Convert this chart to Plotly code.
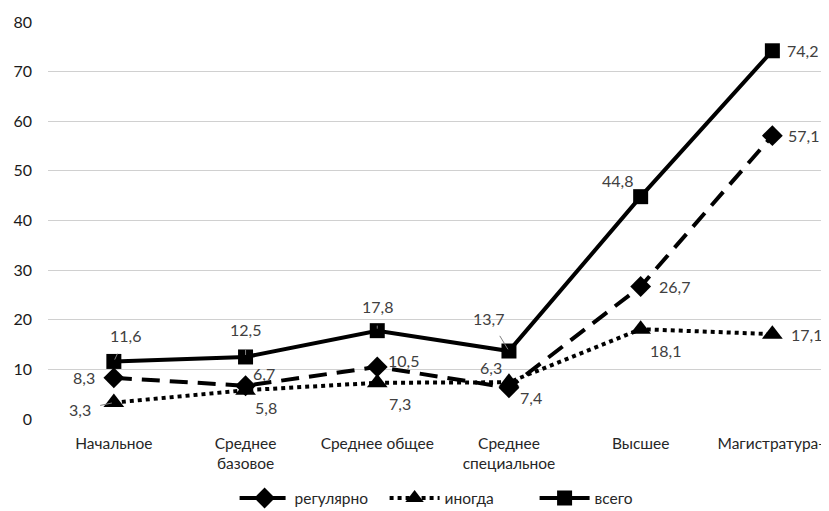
import plotly.graph_objects as go

categories = ["Начальное", "Среднее<br>базовое", "Среднее общее", "Среднее<br>специальное", "Высшее", "Магистратура+"]
regular = [8.3, 6.7, 10.5, 6.3, 26.7, 57.1]
sometimes = [3.3, 5.8, 7.3, 7.4, 18.1, 17.1]
total = [11.6, 12.5, 17.8, 13.7, 44.8, 74.2]
y_ticks = [0, 10, 20, 30, 40, 50, 60, 70, 80]

# label offsets in pixels (dx, dy), and whether a leader line is drawn
reg_off = [(-30, 0, False), (18, -12, False), (26, -6, False), (-18, -20, False), (34, 0, False), (31, 0, False)]
som_off = [(-34, 7, True), (20, 17, False), (23, 21, False), (22, 15, False), (25, 21, False), (34, 0, False)]
tot_off = [(12, -26, True), (0, -27, True), (0, -24, True), (-20, -33, True), (-23, -16, False), (30, 0, False)]

FONT = "Lato, Open Sans, sans-serif"
xs = list(range(len(categories)))
fig = go.Figure()
fig.add_trace(go.Scatter(x=xs, y=regular, name="регулярно", mode="lines+markers",
                         line=dict(color="black", width=4, dash="18px,10px"),
                         marker=dict(symbol="diamond", size=16, color="black")))
fig.add_trace(go.Scatter(x=xs, y=sometimes, name="иногда", mode="lines+markers",
                         line=dict(color="black", width=4, dash="4px,4px"),
                         marker=dict(symbol="triangle-up", size=18, color="black")))
fig.add_trace(go.Scatter(x=xs, y=total, name="всего", mode="lines+markers",
                         line=dict(color="black", width=4),
                         marker=dict(symbol="square", size=15, color="black")))

annotations = []
for series, offs in ((regular, reg_off), (sometimes, som_off), (total, tot_off)):
    for i, (v, (dx, dy, leader)) in enumerate(zip(series, offs)):
        txt = f"{v:.1f}".replace(".", ",")
        if leader:
            annotations.append(dict(x=i, y=v, xref="x", yref="y", text=txt, showarrow=True,
                                    arrowhead=0, arrowwidth=1, arrowcolor="#7f7f7f",
                                    ax=dx, ay=dy, standoff=2, startstandoff=8,
                                    font=dict(family=FONT, size=16, color="#404040")))
        else:
            annotations.append(dict(x=i, y=v, xref="x", yref="y", text=txt, showarrow=False,
                                    xshift=dx, yshift=-dy,
                                    font=dict(family=FONT, size=16, color="#404040")))

# page body has an 8px margin, so the figure is 821x503 and offset by 8px
fig.update_layout(
    width=821, height=503,
    margin=dict(l=40, r=0, t=14, b=92, autoexpand=False),
    plot_bgcolor="white", paper_bgcolor="white",
    font=dict(family=FONT, color="#262626", size=15),
    showlegend=True,
    legend=dict(orientation="h", x=0.527, xanchor="center", y=-0.2, yanchor="middle",
                font=dict(family=FONT, size=15.5, color="#262626"), itemwidth=50,
                entrywidth=85, entrywidthmode="pixels"),
    annotations=annotations,
)
fig.update_xaxes(range=[-0.5, 5.43], tickvals=xs, ticktext=categories, showgrid=False,
                 showline=False, zeroline=False, ticks="", ticklabelstandoff=13, automargin=False,
                 tickfont=dict(family=FONT, size=15.5, color="#262626"))
fig.update_yaxes(range=[0, 80], tickvals=y_ticks, showgrid=True, gridcolor="#d0d0d0", gridwidth=1,
                 zeroline=False, showline=False, ticks="", ticklabelstandoff=15, automargin=False,
                 tickfont=dict(family=FONT, size=16, color="#1a1a1a"))

fig.write_html("out.html")
